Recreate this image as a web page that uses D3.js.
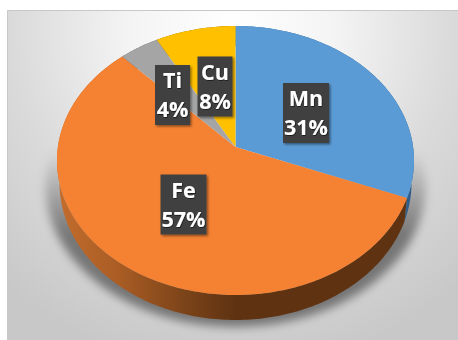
<!DOCTYPE html>
<html><head><meta charset="utf-8">
<script src="https://cdn.jsdelivr.net/npm/d3@7/dist/d3.min.js"></script>
<style>html,body{margin:0;padding:0;background:#fff;overflow:hidden}svg{display:block}</style>
</head><body><svg id="c" width="458" height="340"></svg>
<script>
const categories = ["Mn","Fe","Ti","Cu"];
const percents = [31,57,4,8];
const fills = ["#5b9bd5","#f58233","#a5a5a5","#ffc000"];
const sides = ["#2f5f8c","url(#feSide)","#5f5f5f","#8a6a00"];
const labelCentres = [[306,113],[183.5,204.5],[172.5,95],[215,86.5]];
const labelSizes = [[46,60],[46,60],[35,60],[35,60]];

const svg=d3.select("#c");
const defs=svg.append("defs");

const bg=defs.append("radialGradient").attr("id","bg").attr("gradientUnits","userSpaceOnUse")
  .attr("cx",232).attr("cy",30).attr("r",340);
[[0,"#ffffff"],[0.3,"#f4f4f4"],[0.65,"#dadada"],[0.85,"#d0d0d0"],[1,"#c8c8c8"]].forEach(([o,c])=>bg.append("stop").attr("offset",o).attr("stop-color",c));

const fe=defs.append("linearGradient").attr("id","feSide").attr("gradientUnits","userSpaceOnUse")
  .attr("x1",60).attr("x2",235).attr("y1",0).attr("y2",0);
[[0,"#c26c2c"],[0.35,"#a85c24"],[0.7,"#7d4419"],[1,"#5f3312"]].forEach(([o,c])=>fe.append("stop").attr("offset",o).attr("stop-color",c));

const sh=defs.append("linearGradient").attr("id","shade").attr("gradientUnits","userSpaceOnUse")
  .attr("x1",0).attr("x2",0).attr("y1",150).attr("y2",235);
[[0,0],[1,0.44]].forEach(([o,a])=>sh.append("stop").attr("offset",o).attr("stop-color","#000").attr("stop-opacity",a));

const bl=defs.append("filter").attr("id","blur").attr("x","-20%").attr("y","-20%").attr("width","140%").attr("height","140%");
bl.append("feGaussianBlur").attr("stdDeviation",5);
const ds=defs.append("filter").attr("id","lab").attr("x","-20%").attr("y","-20%").attr("width","150%").attr("height","150%");
ds.append("feDropShadow").attr("dx",1.5).attr("dy",1.5).attr("stdDeviation",1).attr("flood-color","#000").attr("flood-opacity",0.45);
const ts=defs.append("filter").attr("id","txt").attr("x","-20%").attr("y","-20%").attr("width","140%").attr("height","140%");
ts.append("feDropShadow").attr("dx",0.6).attr("dy",0.8).attr("stdDeviation",0.5).attr("flood-color","#000").attr("flood-opacity",0.7);

// picture frame
svg.append("rect").attr("x",7).attr("y",10).attr("width",451).attr("height",330).attr("fill","url(#bg)");
svg.append("path").attr("d","M7.5,340V10.5H458").attr("fill","none").attr("stroke","#c8c8c8");

// perspective projection of a tilted disc onto an ellipse
const tilt=-0.1, k=Math.sqrt(1-tilt*tilt);
function project(a,e){
  const s=Math.sin(a), v=-Math.cos(a), d=1+tilt*v;
  return [e.cx+e.rx*s*k/d, e.cy+e.ry*(v+tilt)/d];
}
function apex(e){return [e.cx, e.cy+e.ry*tilt];}
function rim(d,e){
  const n=Math.max(2,Math.ceil((d.endAngle-d.startAngle)*60));
  return d3.range(n+1).map(i=>project(d.startAngle+(d.endAngle-d.startAngle)*i/n,e));
}
const sector=(d,e)=>d3.line()([apex(e),...rim(d,e)])+"Z";
const wall=(d,a,b)=>d3.line()([...rim(d,a),...rim(d,b).reverse()])+"Z";
const upper={cx:235.5,cy:160.5,rx:178.5,ry:134.5};
const lower={cx:235.5,cy:183,rx:176,ry:137};

const pie=d3.pie().sort(null)(percents);

// soft shadow
svg.append("ellipse").attr("cx",235.5).attr("cy",186).attr("rx",190).attr("ry",141)
  .attr("fill","url(#shade)").attr("filter","url(#blur)");

// side wall
svg.append("g").selectAll("path").data(pie).join("path")
  .attr("d",d=>wall(d,upper,lower)).attr("fill",(d,i)=>sides[i]);
// top face
svg.append("g").selectAll("path").data(pie).join("path")
  .attr("d",d=>sector(d,upper)).attr("fill",(d,i)=>fills[i]);

// labels
const g=svg.append("g").selectAll("g").data(categories).join("g")
  .attr("transform",(d,i)=>`translate(${labelCentres[i][0]},${labelCentres[i][1]})`);
g.append("rect").attr("x",(d,i)=>-labelSizes[i][0]/2).attr("y",(d,i)=>-labelSizes[i][1]/2)
  .attr("width",(d,i)=>labelSizes[i][0]).attr("height",(d,i)=>labelSizes[i][1])
  .attr("fill","#404040").attr("filter","url(#lab)");
const t=g.append("text").attr("text-anchor","middle").attr("fill","#fff")
  .attr("font-family","'Open Sans','Noto Sans',sans-serif").attr("font-weight",700).attr("font-size",21.5)
  .attr("filter","url(#txt)");
t.append("tspan").attr("x",0).attr("y",-7).text(d=>d);
t.append("tspan").attr("x",0).attr("y",22).text((d,i)=>percents[i]+"%");
</script></body></html>
